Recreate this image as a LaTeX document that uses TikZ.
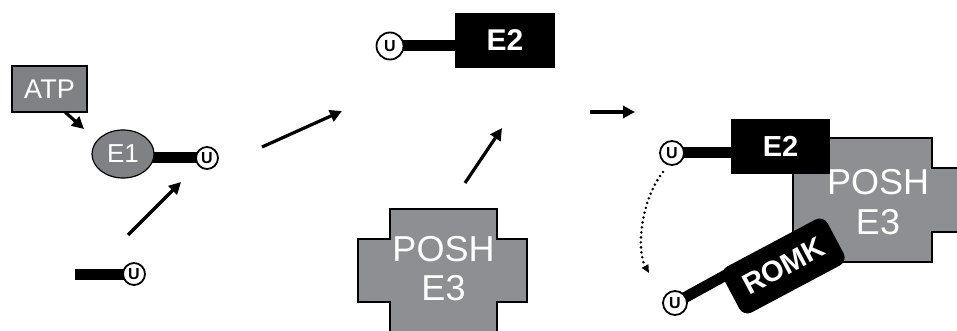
\documentclass[tikz,border=0pt]{standalone}
\usepackage{fontspec}
\setmainfont{Liberation Sans}
\usetikzlibrary{arrows.meta,shapes.geometric,backgrounds}
\definecolor{darkgrayfill}{HTML}{808184}
\definecolor{poshgray}{HTML}{8E8F92}
\begin{document}
\begin{tikzpicture}[x=1pt,y=-1pt,
  atpbox/.style={rectangle,fill=darkgrayfill,draw=black,line width=1.2pt,
    minimum width=75pt,minimum height=46pt,inner sep=0pt,text=white,
    font=\fontsize{27}{29}\selectfont},
  enzyme/.style={ellipse,fill=darkgrayfill,draw=black,line width=1.2pt,
    minimum width=62pt,minimum height=48pt,inner sep=0pt,text=white,
    font=\fontsize{26}{28}\selectfont},
  ubq/.style={circle,draw=black,fill=white,line width=1.8pt,
    minimum size=22pt,inner sep=0pt,font=\fontsize{16}{16}\selectfont\bfseries},
  etwo/.style={rectangle,fill=black,text=white,inner sep=0pt,
    font=\fontsize{30}{31}\selectfont\bfseries},
  poshshape/.style={fill=poshgray,draw=black,line width=1.3pt,line join=miter},
  poshtext/.style={anchor=base,text=white,inner sep=0pt,
    font=\fontsize{36}{40}\selectfont},
  romkbox/.style={rectangle,rounded corners=9pt,fill=black,text=white,
    minimum width=118pt,minimum height=52pt,inner sep=0pt,
    font=\fontsize{29}{30}\selectfont\bfseries},
  bar/.style={line width=11pt,black},
  arr/.style={line width=3.2pt,-{Triangle[length=12pt,width=12pt]}},
  dotarr/.style={line width=2.8pt,line cap=round,dash pattern=on 0pt off 5pt,
    -{Triangle[length=8pt,width=7pt]}}]
\useasboundingbox (0,0) rectangle (957,331);

% ---- left: E1 activation
\node[atpbox] (atp) at (49.5,89) {ATP};
\node[enzyme] (e1) at (123,154) {E1};
\node[ubq] (u1) at (207,158) {U};
\node[ubq] (u0) at (134,274) {U};
\coordinate (b0) at (75,274);

\coordinate (a1s) at (65,112);
\coordinate (a1e) at (84,129);
\draw[arr] (a1s) -- (a1e);
\coordinate (a2s) at (128,235);
\coordinate (a2e) at (181,182);
\draw[arr] (a2s) -- (a2e);
\coordinate (a3s) at (262,147);
\coordinate (a3e) at (342,111);
\draw[arr] (a3s) -- (a3e);

% ---- middle: E2 and POSH
\node[etwo,minimum width=100pt,minimum height=55pt] (e2t) at (505,40.5) {E2};
\node[ubq,minimum size=27pt] (u2) at (390,46) {U};

\draw[poshshape] (390,209) -- (497,209) -- (497,239) -- (527,239) -- (527,302)
  -- (497,302) -- (497,334) -- (390,334) -- (390,302) -- (358,302)
  -- (358,239) -- (390,239) -- cycle;
\node[poshtext] (poshla) at (443.5,261) {POSH};
\node[poshtext] (poshlb) at (443.5,300) {E3};

\coordinate (a4s) at (465,183);
\coordinate (a4e) at (502,128);
\draw[arr] (a4s) -- (a4e);
\coordinate (a5s) at (590,112);
\coordinate (a5e) at (635,112);
\draw[arr] (a5s) -- (a5e);

% ---- right: complex
\draw[poshshape] (793,138) -- (932,138) -- (932,168) -- (960,168) -- (960,232)
  -- (932,232) -- (932,262) -- (793,262) -- cycle;
\node[poshtext] (poshra) at (878,194) {POSH};
\node[poshtext] (poshrb) at (878,234) {E3};
\node[etwo,minimum width=99pt,minimum height=55pt,font=\fontsize{29}{30}\selectfont\bfseries] (e2r) at (780.5,146.5) {E2};
\node[ubq,minimum size=24pt] (u3) at (672,153) {U};
\node[romkbox,rotate=28] (romk) at (783.5,266) {ROMK};
\node[ubq,minimum size=24pt] (u4) at (675,303) {U};
\coordinate (rbar) at (735,270);

\coordinate (d1) at (663,172);
\coordinate (d2) at (649,273);
\draw[dotarr] (d1) .. controls (641,200) and (636,250) .. (d2);

\begin{pgfonlayer}{background}
  \draw[bar] (u1.center) -- (u1.center -| e1.center);
  \draw[bar] (b0) -- (u0.center);
  \draw[bar] (u2.center) -- (u2.center -| e2t.center);
  \draw[bar] (u3.center) -- (u3.center -| e2r.center);
  \draw[bar] (u4.center) -- (rbar);
\end{pgfonlayer}
\end{tikzpicture}
\end{document}
